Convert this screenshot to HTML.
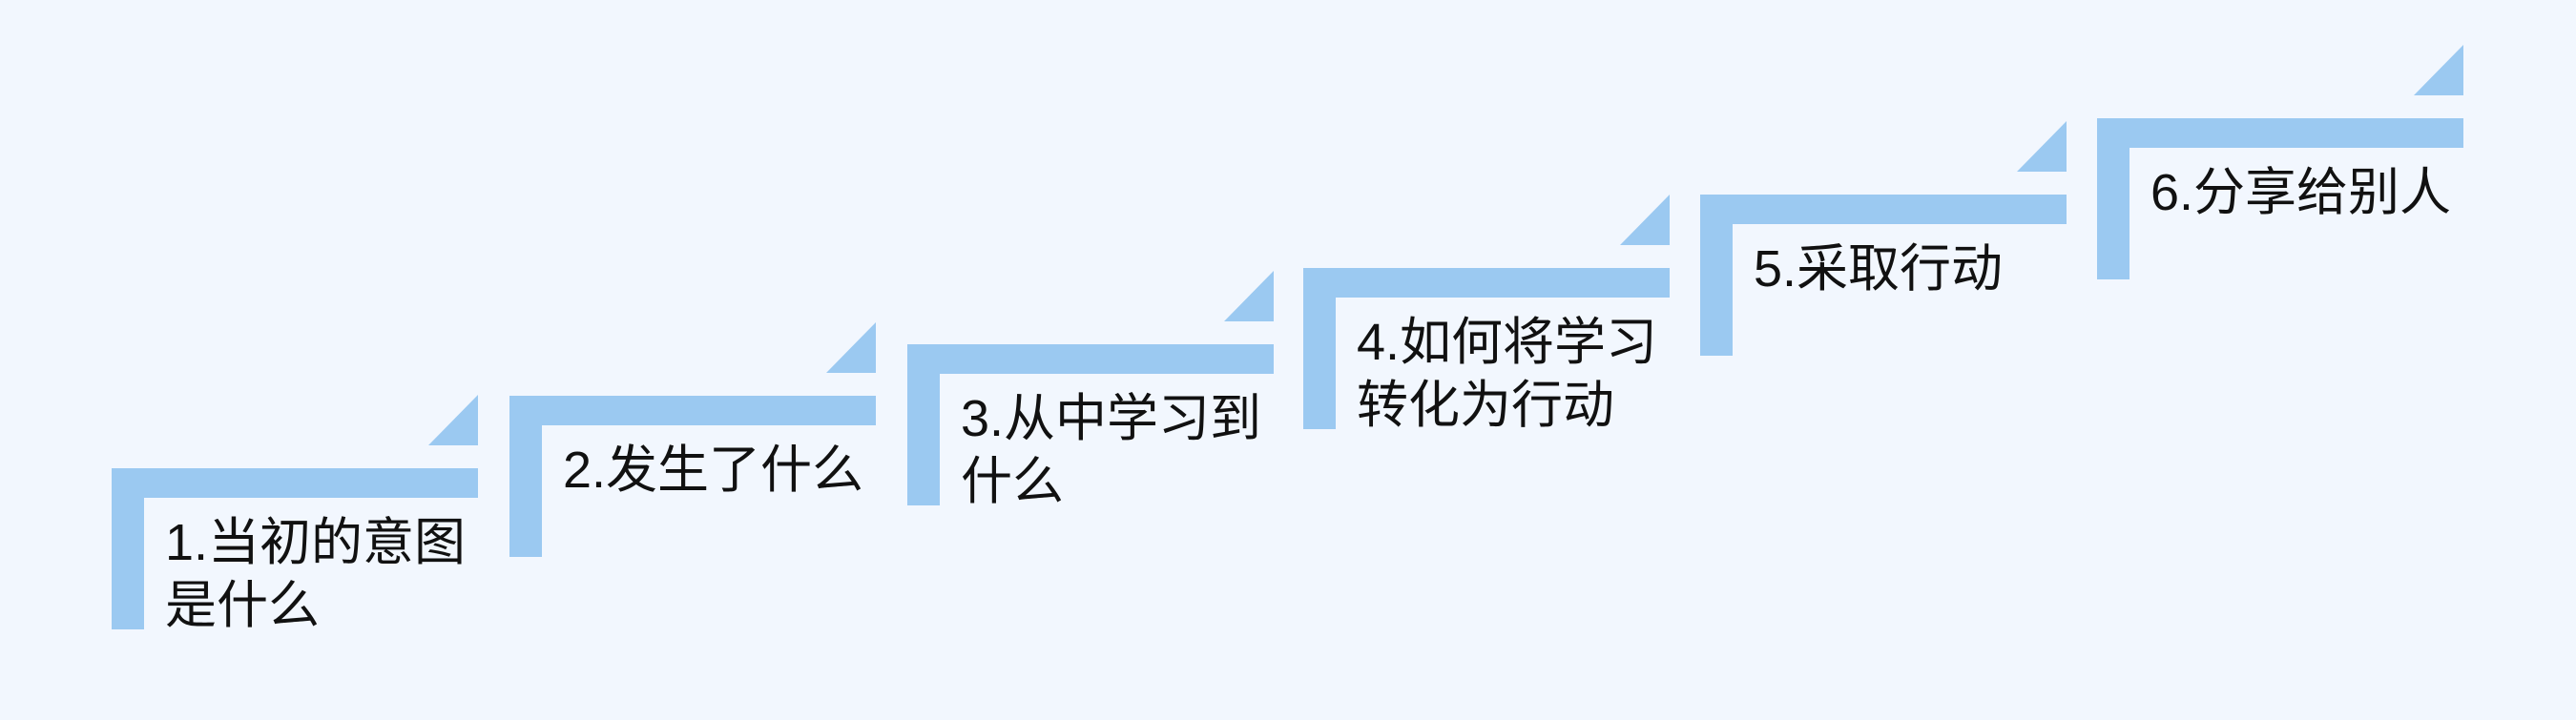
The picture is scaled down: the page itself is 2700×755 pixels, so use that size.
<!DOCTYPE html>
<html><head><meta charset="utf-8"><style>
html,body{margin:0;padding:0}
body{width:2700px;height:755px;background:#F2F7FE;position:relative;overflow:hidden;font-family:"Liberation Sans","Noto Sans CJK SC",sans-serif}
.s{position:absolute;width:384px;height:170px}
.h{position:absolute;left:0;top:0;width:384px;height:31px;background:#9BC9F1}
.v{position:absolute;left:0;top:0;width:34px;height:169px;background:#9BC9F1}
.t{position:absolute;left:332px;top:-77px;width:0;height:0;border-left:52px solid transparent;border-bottom:53px solid #9BC9F1}
.x{position:absolute;left:56px;top:45px;font-size:54px;line-height:66px;color:#111;white-space:nowrap}
</style></head><body>
<div class="s" style="left:117px;top:491px"><div class="h"></div><div class="v"></div><div class="t"></div><div class="x">1.当初的意图<br>是什么</div></div>
<div class="s" style="left:534px;top:415px"><div class="h"></div><div class="v"></div><div class="t"></div><div class="x">2.发生了什么</div></div>
<div class="s" style="left:951px;top:361px"><div class="h"></div><div class="v"></div><div class="t"></div><div class="x">3.从中学习到<br>什么</div></div>
<div class="s" style="left:1366px;top:281px"><div class="h"></div><div class="v"></div><div class="t"></div><div class="x">4.如何将学习<br>转化为行动</div></div>
<div class="s" style="left:1782px;top:204px"><div class="h"></div><div class="v"></div><div class="t"></div><div class="x">5.采取行动</div></div>
<div class="s" style="left:2198px;top:124px"><div class="h"></div><div class="v"></div><div class="t"></div><div class="x">6.分享给别人</div></div>
</body></html>
